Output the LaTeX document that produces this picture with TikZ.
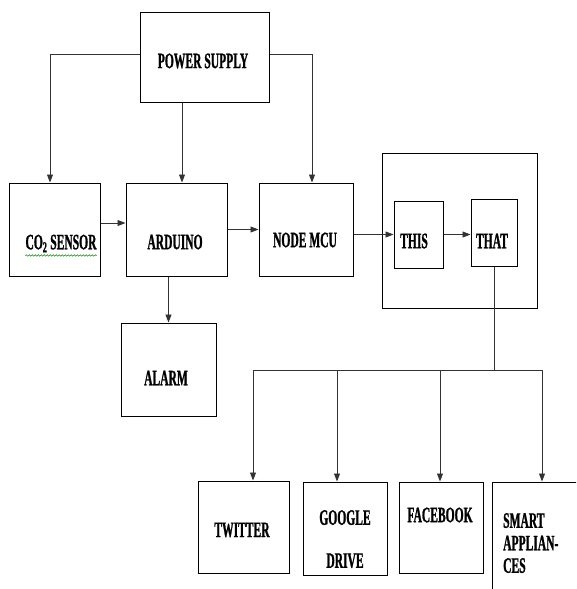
\documentclass[tikz,border=0pt]{standalone}
\usepackage{fontspec}
\newfontfamily\boxfont{Liberation Serif}[FakeStretch=0.525,FakeBold=1]
\usetikzlibrary{arrows.meta,decorations.pathmorphing}

\begin{document}
\begin{tikzpicture}[x=1pt,y=-1pt,
    blk/.style={draw,line width=1pt,inner sep=0pt},
    txt/.style={font=\boxfont\bfseries\fontsize{22}{22.5}\selectfont,inner sep=0pt},
    wire/.style={draw=black!80,line width=0.9pt},
    arr/.style={wire,-{Triangle[length=8pt,width=6pt]}}]
        \def\busy{370}
        \useasboundingbox (0,0) rectangle (576,589);
        \clip (0,0) rectangle (576,589);

        % boxes
        \node[blk,minimum width=129pt,minimum height=90pt] (ps) at (204.5,57) {};
        \node[blk,minimum width=91pt,minimum height=93pt] (co2) at (54.5,229.5) {};
        \node[blk,minimum width=101pt,minimum height=93pt] (ard) at (176.5,229.5) {};
        \node[blk,minimum width=94pt,minimum height=93pt] (mcu) at (306,229.5) {};
        \node[blk,minimum width=155pt,minimum height=155pt] (ifttt) at (459.5,230.5) {};
        \node[blk,minimum width=49pt,minimum height=67pt] (this) at (418.5,234.5) {};
        \node[blk,minimum width=46pt,minimum height=67pt] (that) at (494,232.5) {};
        \node[blk,minimum width=95pt,minimum height=93pt] (alarm) at (168.5,369.5) {};
        \node[blk,minimum width=91pt,minimum height=92pt] (tw) at (243.5,527) {};
        \node[blk,minimum width=84pt,minimum height=93pt] (gd) at (345,528.5) {};
        \node[blk,minimum width=84pt,minimum height=91pt] (fb) at (441,527.5) {};
        \node[blk,minimum width=130pt,minimum height=150pt] (sm) at (557,557) {};

        % texts
        \node[txt] (pst) at (203,61) {POWER SUPPLY};
        \node[txt,text depth=0pt] (co2t) at (61,242) {CO\textsubscript{2} SENSOR};
        \node[txt] (ardt) at (175,242) {ARDUINO};
        \node[txt] (mcut) at (305,240) {NODE MCU};
        \node[txt] (thist) at (414,241) {THIS};
        \node[txt] (thatt) at (492,241) {THAT};
        \node[txt] (alarmt) at (166,378) {ALARM};
        \node[txt] (twt) at (242,530) {TWITTER};
        \node[txt,align=center,anchor=north] (gdt) at (345,510) {GOOGLE\\[20.5pt]DRIVE};
        \node[txt] (fbt) at (440,515) {FACEBOOK};
        \node[txt,align=left,anchor=north west] (smt) at (503,513) {SMART\\APPLIAN-\\CES};
        \draw[green!60!black,line width=0.6pt,decorate,decoration={snake,amplitude=0.8pt,segment length=3pt}]
          ([yshift=-6pt]co2t.south west) -- ([yshift=-6pt]co2t.south east);

        % connectors
        \coordinate (psb) at ([xshift=-22.5pt]ps.south);
        \draw[arr] ([yshift=3pt]ps.west) -| ([xshift=-4.5pt]co2.north);
        \draw[arr] (psb) -- (psb |- ard.north);
        \draw[arr] ([yshift=3pt]ps.east) -| ([xshift=6pt]mcu.north);
        \draw[arr] ([yshift=6.5pt]co2.east) -- ([yshift=6.5pt]ard.west);
        \draw[arr] (ard.east) -- (mcu.west);
        \draw[arr] (this.west -| mcu.east) -- (this.west);
        \draw[arr] (this.east) -- (this.east -| that.west);
        \draw[arr] (alarm.north |- ard.south) -- (alarm.north);
        \draw[wire] (that.south) -- (that.south |- 0,\busy);
        \draw[wire] (253,\busy) -- (542,\busy);
        \foreach \n/\x in {tw/253,gd/337,fb/440,sm/542} {
          \draw[arr] (\x,\busy) -- (\x,\busy |- \n.north);
        }
      \end{tikzpicture}
\end{document}
